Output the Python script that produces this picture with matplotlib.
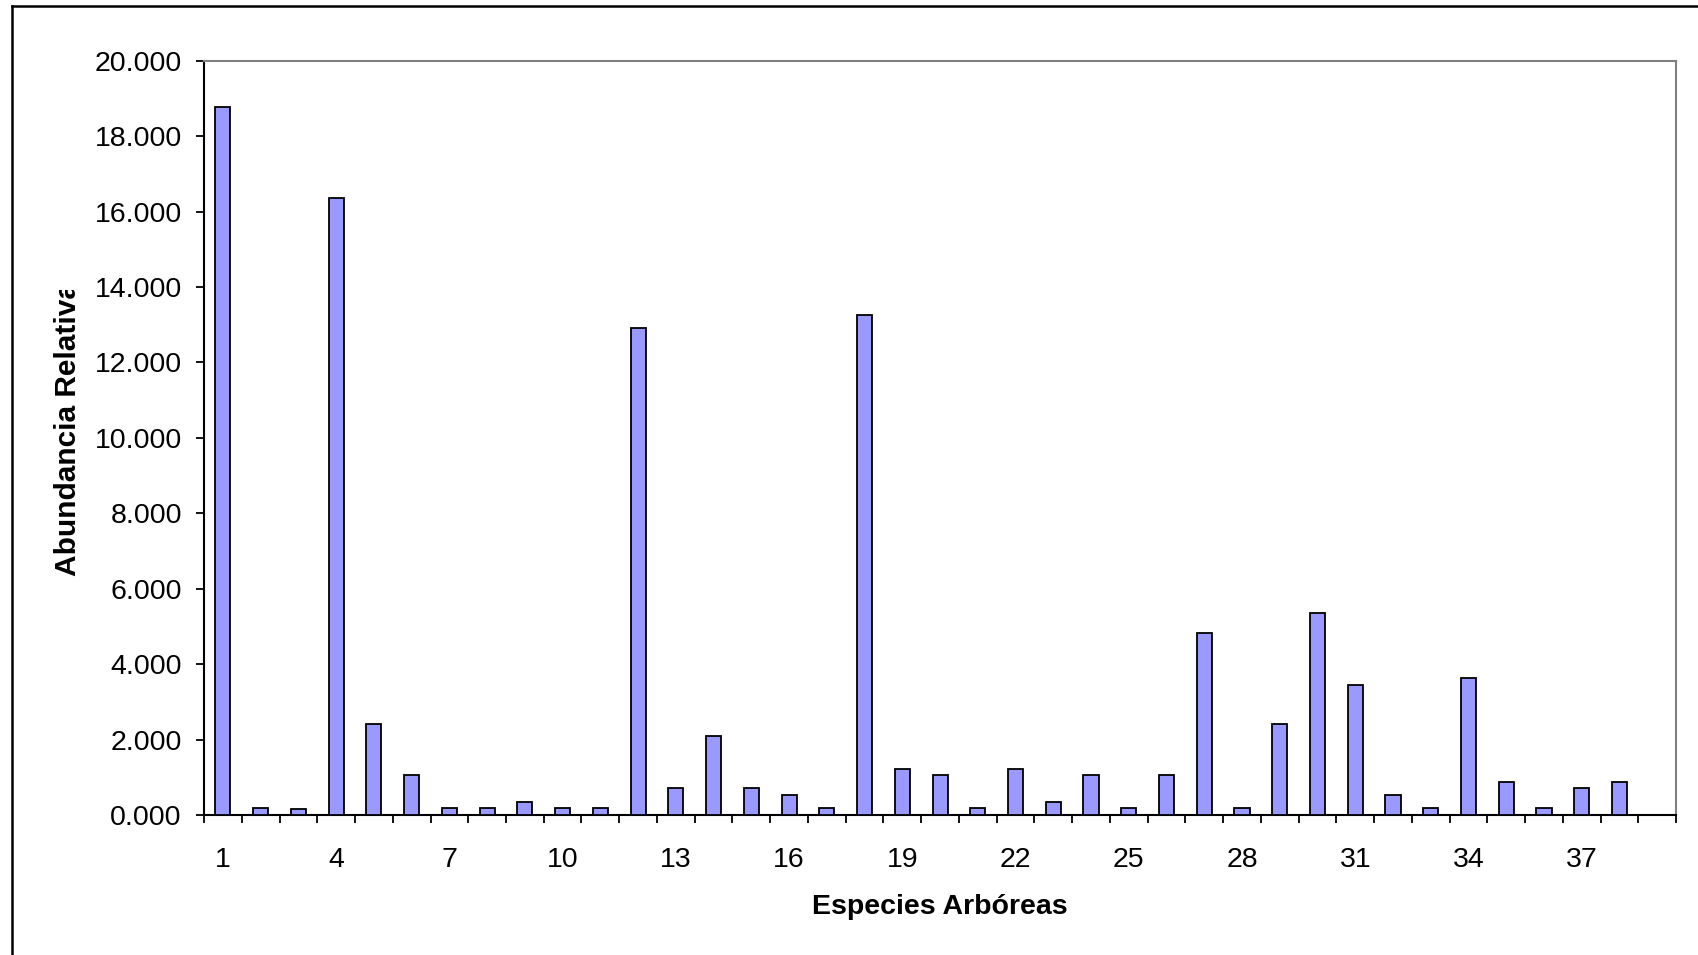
import matplotlib
matplotlib.use("Agg")
import matplotlib.pyplot as plt
from matplotlib.lines import Line2D
from matplotlib.patches import Rectangle
from matplotlib.ticker import FixedLocator, FuncFormatter

plt.rcParams["font.family"] = ["Liberation Sans", "DejaVu Sans"]

# abundancia relativa (%) por especie arborea
especies = list(range(1, 39))
abundancia = [18.77, 0.18, 0.16, 16.35, 2.41, 1.05, 0.18, 0.18, 0.35, 0.18,
              0.18, 12.90, 0.71, 2.09, 0.71, 0.53, 0.18, 13.27, 1.22, 1.05,
              0.18, 1.22, 0.35, 1.05, 0.18, 1.05, 4.83, 0.18, 2.41, 5.35,
              3.45, 0.53, 0.18, 3.63, 0.87, 0.18, 0.71, 0.87]
etiquetas_x = list(range(1, 39, 3))
n_slots = 39

fig = plt.figure(figsize=(16.99, 9.55), dpi=100)
ax = fig.add_axes([0.1201, 0.1466, 0.8664, 0.7898])

ax.bar(especies, abundancia, width=0.4, color="#9999FF",
       edgecolor="black", linewidth=1.3, zorder=3)

ax.set_xlim(0.5, n_slots + 0.5)
ax.set_ylim(0, 20)

# ejes
for s in ("left", "bottom"):
    ax.spines[s].set_color("black")
    ax.spines[s].set_linewidth(1.5)
for s in ("top", "right"):
    ax.spines[s].set_color("#808080")
    ax.spines[s].set_linewidth(1.5)

ax.set_yticks([i * 2 for i in range(11)])
ax.yaxis.set_major_formatter(FuncFormatter(lambda v, p: f"{v:.3f}"))
ax.tick_params(axis="y", direction="out", length=6, width=1.3,
               labelsize=20.5, pad=10)

ax.set_xticks(etiquetas_x)
ax.set_xticklabels([str(e) for e in etiquetas_x])
ax.xaxis.set_minor_locator(FixedLocator([i + 0.5 for i in range(n_slots + 1)]))
ax.tick_params(axis="x", which="major", length=0, labelsize=20.5, pad=23)
ax.tick_params(axis="x", which="minor", direction="out", length=6, width=1.3)

ax.set_xlabel("Especies Arbóreas", fontsize=20.5, fontweight="bold")
ax.xaxis.set_label_coords(0.5, -0.122)
ax.xaxis.label.set_va("center")

# titulo del eje y, recortado por arriba
ylab = fig.text(0.0400, 1 - 576 / 955, "Abundancia Relativa", rotation=90,
                ha="center", va="bottom", fontsize=21.5, fontweight="bold")
ylab.set_clip_path(Rectangle((0, 0), 1, 1 - 290 / 955, transform=fig.transFigure))

# marco exterior
fig.add_artist(Line2D([12 / 1699, 12 / 1699], [0, 1 - 6 / 955],
                      transform=fig.transFigure, color="black", linewidth=1.8))
fig.add_artist(Line2D([12 / 1699, 1], [1 - 6 / 955, 1 - 6 / 955],
                      transform=fig.transFigure, color="black", linewidth=1.8))

fig.savefig("out.png", dpi=100, facecolor="white")
